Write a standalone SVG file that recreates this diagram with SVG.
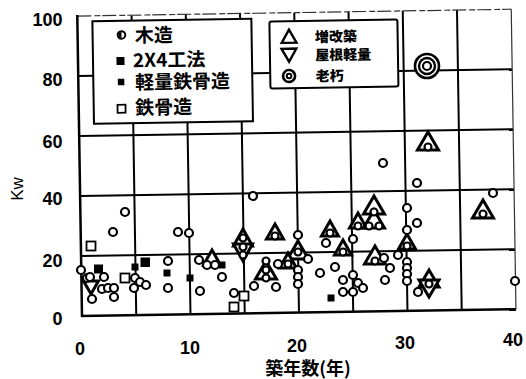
<svg xmlns="http://www.w3.org/2000/svg" width="526" height="379" viewBox="0 0 526 379">
<style>
.grid{stroke:#000;stroke-width:2;fill:none}
.axis{stroke:#000;stroke-width:2.5;fill:none}
.thin{stroke:#333;stroke-width:1.2;fill:none}
.box{fill:#fff;stroke:#000;stroke-width:2}
.c{fill:#fff;stroke:#000;stroke-width:2.2}
.t{fill:#fff;stroke:#000;stroke-width:3;stroke-linejoin:miter}
.lt{fill:#fff;stroke:#000;stroke-width:2.4}
.fs{fill:#000}
.os{fill:#fff;stroke:#000;stroke-width:1.8}
.num{font-family:"Liberation Sans",Arial,sans-serif;font-weight:bold;font-size:18px;fill:#000}
.lg1{font-family:"Noto Sans CJK JP","Liberation Sans",sans-serif;font-weight:bold;font-size:19px;fill:#000}
.lg2{font-family:"Noto Sans CJK JP",sans-serif;font-weight:900;font-size:14px;fill:#000}
.ttl{font-family:"Noto Sans CJK JP",sans-serif;font-weight:bold;font-size:18px;fill:#000}
</style>
<defs>
<path id="tb" d="M0,-11 L10.5,7 L-10.5,7 Z"/>
<path id="ts" d="M0,-9 L8.5,6 L-8.5,6 Z"/>
<path id="td" d="M0,8 L7.5,-5 L-7.5,-5 Z"/>
</defs>

<g id="frame" transform="rotate(-0.9 82 316)">
  <g id="gridlines">
    <line class="grid" x1="136.25" y1="16" x2="136.25" y2="316"/>
    <line class="grid" x1="190.5" y1="16" x2="190.5" y2="316"/>
    <line class="grid" x1="244.75" y1="16" x2="244.75" y2="316"/>
    <line class="grid" x1="299" y1="16" x2="299" y2="316"/>
    <line class="grid" x1="353.25" y1="16" x2="353.25" y2="316"/>
    <line class="grid" x1="407.5" y1="16" x2="407.5" y2="316"/>
    <line class="grid" x1="461.75" y1="16" x2="461.75" y2="316"/>
    <line class="grid" x1="82" y1="76" x2="516" y2="76"/>
    <line class="grid" x1="82" y1="136" x2="516" y2="136"/>
    <line class="grid" x1="82" y1="196" x2="516" y2="196"/>
    <line class="grid" x1="82" y1="256" x2="516" y2="256"/>
    <line class="thin" x1="82" y1="16" x2="516" y2="16" stroke-dasharray="14 3 6 2"/>
    <line class="thin" x1="516" y1="16" x2="516" y2="316"/>
    <line class="axis" x1="82" y1="15" x2="82" y2="317"/>
    <line class="axis" x1="81" y1="316" x2="516" y2="316"/>
  </g>
  <g id="legend1">
    <rect class="box" x="97" y="21.5" width="159" height="102.5"/>
    <circle cx="125.9" cy="35.6" r="3.8" fill="#fff" stroke="#000" stroke-width="2"/>
    <path d="M125.9,32.6 A3,3 0 0 0 125.9,38.6 Z" fill="#000"/>
    <text class="lg1" x="139.4" y="43.2">木造</text>
    <rect class="fs" x="120.5" y="57.6" width="8" height="8"/>
    <text class="lg1" x="137" y="68">2X4工法</text>
    <rect class="fs" x="121.5" y="79.4" width="6.5" height="6.5"/>
    <text class="lg1" x="138.7" y="90">軽量鉄骨造</text>
    <rect class="os" x="120.8" y="105.4" width="8" height="8"/>
    <text class="lg1" x="138.5" y="115.3">鉄骨造</text>
  </g>
  <g id="legend2">
    <rect class="box" x="274" y="24.5" width="128" height="67" rx="2"/>
    <path class="lt" d="M293.4,33 L300.8,46 L286,46 Z"/>
    <path class="lt" d="M293.1,65 L300.5,52 L285.7,52 Z"/>
    <circle cx="292.8" cy="79.3" r="6" fill="#fff" stroke="#000" stroke-width="2.6"/>
    <circle cx="292.8" cy="79.3" r="2.3" fill="#fff" stroke="#000" stroke-width="2"/>
    <text class="lg2" x="319.3" y="45.7">増改築</text>
    <text class="lg2" x="319.3" y="64">屋根軽量</text>
    <text class="lg2" x="319.3" y="85">老朽</text>
  </g>
</g>

<g id="axis-labels">
  <text class="num" x="62.5" y="26" text-anchor="end">100</text>
  <text class="num" x="62.5" y="86" text-anchor="end">80</text>
  <text class="num" x="62.5" y="147.5" text-anchor="end">60</text>
  <text class="num" x="62.5" y="204.5" text-anchor="end">40</text>
  <text class="num" x="62.5" y="266.5" text-anchor="end">20</text>
  <text class="num" x="62.5" y="324.5" text-anchor="end">0</text>
  <text class="num" x="80" y="354.5" text-anchor="middle">0</text>
  <text class="num" x="190" y="353.5" text-anchor="middle">10</text>
  <text class="num" x="297" y="351.5" text-anchor="middle">20</text>
  <text class="num" x="405" y="349" text-anchor="middle">30</text>
  <text class="num" x="513" y="346" text-anchor="middle">40</text>
  <text class="ttl" x="308" y="375" text-anchor="middle">築年数(年)</text>
  <text transform="translate(23,189) rotate(-90)" font-family="Liberation Sans, Arial, sans-serif" font-size="17" text-anchor="middle">Kw</text>
</g>

<g id="data">
  <rect class="fs" x="94" y="264.5" width="9" height="9"/>
  <rect class="fs" x="131.5" y="263.5" width="7" height="7"/>
  <rect class="fs" x="140.5" y="257.5" width="9.5" height="9.5"/>
  <rect class="fs" x="163.5" y="269.5" width="7" height="7"/>
  <rect class="fs" x="186.5" y="274.5" width="7" height="7"/>
  <rect class="fs" x="218.5" y="261.5" width="7" height="7"/>
  <rect class="fs" x="327.5" y="294.5" width="7" height="7"/>
  <rect class="os" x="86.5" y="241.5" width="9" height="9"/>
  <rect class="os" x="120.5" y="273.5" width="9" height="9"/>
  <rect class="os" x="239.5" y="291.5" width="9" height="9"/>
  <rect class="os" x="229.5" y="302.5" width="9" height="9"/>

  <use href="#td" class="t" x="91" y="286"/>
  <use href="#ts" class="t" x="212" y="259"/>
  <path class="t" d="M243,229 L252.5,246 L233.5,246 Z"/>
  <path class="t" d="M243,261 L252.5,244 L233.5,244 Z"/>
  <use href="#ts" class="t" x="275" y="233"/>
  <use href="#tb" class="t" x="266" y="272"/>
  <use href="#tb" class="t" x="298" y="252"/>
  <use href="#ts" class="t" x="288" y="262"/>
  <use href="#ts" class="t" x="330" y="230"/>
  <use href="#ts" class="t" x="343" y="249"/>
  <use href="#ts" class="t" x="358" y="222"/>
  <use href="#tb" class="t" x="374" y="207"/>
  <use href="#tb" class="t" x="374" y="221"/>
  <use href="#tb" class="t" x="375" y="257"/>
  <use href="#ts" class="t" x="407" y="243"/>
  <use href="#tb" class="t" x="428" y="143"/>
  <use href="#tb" class="t" x="483" y="211"/>
  <path class="t" d="M429,270 L439,287 L419,287 Z"/>
  <path class="t" d="M429,297 L439,280 L419,280 Z"/>

  <circle cx="427" cy="66" r="12" fill="#fff" stroke="#000" stroke-width="2.6"/>
  <circle cx="427" cy="66" r="8" fill="none" stroke="#000" stroke-width="2.4"/>
  <circle cx="427" cy="66" r="4" fill="none" stroke="#000" stroke-width="2.2"/>

  <circle class="c" cx="81" cy="270" r="4"/>
  <circle class="c" cx="87" cy="278" r="4"/>
  <circle class="c" cx="90" cy="277" r="4"/>
  <circle class="c" cx="104" cy="277" r="4"/>
  <circle class="c" cx="102" cy="289" r="4"/>
  <circle class="c" cx="108" cy="288" r="4"/>
  <circle class="c" cx="114" cy="288" r="4"/>
  <circle class="c" cx="114" cy="297" r="4"/>
  <circle class="c" cx="92" cy="299" r="4"/>
  <circle class="c" cx="113" cy="232" r="4"/>
  <circle class="c" cx="125" cy="212" r="4"/>
  <circle class="c" cx="135" cy="278" r="4"/>
  <circle class="c" cx="140" cy="282" r="4"/>
  <circle class="c" cx="134" cy="288" r="4"/>
  <circle class="c" cx="146" cy="285" r="4"/>
  <circle class="c" cx="168" cy="261" r="4"/>
  <circle class="c" cx="168" cy="288" r="4"/>
  <circle class="c" cx="178" cy="232" r="4"/>
  <circle class="c" cx="189" cy="233" r="4"/>
  <circle class="c" cx="200" cy="291" r="4"/>
  <circle class="c" cx="199" cy="260" r="4"/>
  <circle class="c" cx="207" cy="265" r="4"/>
  <circle class="c" cx="215" cy="265" r="4"/>
  <circle class="c" cx="222" cy="277" r="4"/>
  <circle class="c" cx="234" cy="293" r="4"/>
  <circle class="c" cx="253" cy="196" r="4"/>
  <circle class="c" cx="243" cy="238" r="3.5"/>
  <circle class="c" cx="243" cy="247" r="3.5"/>
  <circle class="c" cx="243" cy="255" r="3.5"/>
  <circle class="c" cx="275" cy="236" r="3.5"/>
  <circle class="c" cx="266" cy="261" r="3.5"/>
  <circle class="c" cx="266" cy="270" r="3.5"/>
  <circle class="c" cx="266" cy="278" r="3.5"/>
  <circle class="c" cx="254" cy="286" r="4"/>
  <circle class="c" cx="276" cy="287" r="4"/>
  <circle class="c" cx="278" cy="264" r="4"/>
  <circle class="c" cx="288" cy="264" r="3.5"/>
  <circle class="c" cx="298" cy="235" r="4"/>
  <circle class="c" cx="298" cy="252" r="3.5"/>
  <circle class="c" cx="298" cy="270" r="4"/>
  <circle class="c" cx="298" cy="277" r="4"/>
  <circle class="c" cx="298" cy="284" r="4"/>
  <circle class="c" cx="308" cy="259" r="4"/>
  <circle class="c" cx="330" cy="233" r="3.5"/>
  <circle class="c" cx="326" cy="243" r="4"/>
  <circle class="c" cx="343" cy="252" r="3.5"/>
  <circle class="c" cx="353" cy="239" r="4"/>
  <circle class="c" cx="320" cy="273" r="4"/>
  <circle class="c" cx="335" cy="267" r="4"/>
  <circle class="c" cx="343" cy="280" r="4"/>
  <circle class="c" cx="353" cy="275" r="4"/>
  <circle class="c" cx="358" cy="283" r="4"/>
  <circle class="c" cx="343" cy="292" r="4"/>
  <circle class="c" cx="353" cy="292" r="4"/>
  <circle class="c" cx="363" cy="288" r="4"/>
  <circle class="c" cx="358" cy="226" r="3.5"/>
  <circle class="c" cx="374" cy="212" r="3.5"/>
  <circle class="c" cx="369" cy="226" r="3.5"/>
  <circle class="c" cx="379" cy="226" r="3.5"/>
  <circle class="c" cx="375" cy="261" r="3.5"/>
  <circle class="c" cx="384" cy="258" r="4"/>
  <circle class="c" cx="390" cy="268" r="4"/>
  <circle class="c" cx="385" cy="280" r="4"/>
  <circle class="c" cx="398" cy="255" r="4"/>
  <circle class="c" cx="383" cy="163" r="4"/>
  <circle class="c" cx="407" cy="208" r="4"/>
  <circle class="c" cx="417" cy="223" r="4"/>
  <circle class="c" cx="407" cy="230" r="4"/>
  <circle class="c" cx="407" cy="246" r="3.5"/>
  <circle class="c" cx="407" cy="262" r="4"/>
  <circle class="c" cx="407" cy="268" r="4"/>
  <circle class="c" cx="407" cy="274" r="4"/>
  <circle class="c" cx="407" cy="281" r="4"/>
  <circle class="c" cx="417" cy="183" r="4"/>
  <circle class="c" cx="429" cy="284" r="3.5"/>
  <circle class="c" cx="418" cy="292" r="4"/>
  <circle class="c" cx="428" cy="147" r="3.5"/>
  <circle class="c" cx="493" cy="193" r="4"/>
  <circle class="c" cx="483" cy="214" r="3.5"/>
  <circle class="c" cx="515" cy="281" r="4"/>
</g>
</svg>
